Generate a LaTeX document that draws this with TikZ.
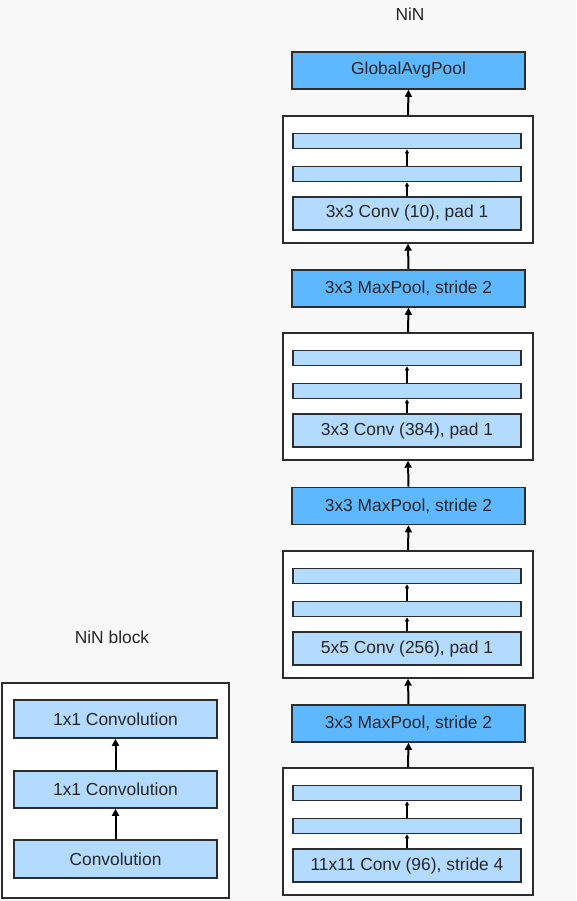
\documentclass[tikz,border=0pt]{standalone}
\usepackage{fontspec}
\setmainfont{Liberation Sans}
\usetikzlibrary{arrows.meta, positioning}
\definecolor{poolBlue}{RGB}{94,184,255}
\definecolor{convBlue}{RGB}{179,218,255}
\definecolor{edgeGray}{RGB}{45,45,45}
\definecolor{bgGray}{RGB}{248,248,248}
\tikzset{
  pool/.style={draw=edgeGray, line width=1.6pt, fill=poolBlue, minimum width=233pt, minimum height=37pt, inner sep=0pt},
  conv/.style={draw=edgeGray, line width=1.6pt, fill=convBlue, minimum width=228pt, minimum height=33pt, inner sep=0pt},
  bar/.style={conv, minimum height=15pt},
  block/.style={draw=edgeGray, line width=1.4pt, fill=white, minimum width=250pt, minimum height=127pt, inner sep=0pt},
  flow/.style={-{Triangle[length=7pt,width=7pt]}, line width=2pt},
  innerflow/.style={-{Triangle[length=4pt,width=4pt]}, line width=1.6pt},
}
\begin{document}
\begin{tikzpicture}[x=1pt, y=-1pt, font=\fontsize{17.4}{20}\selectfont, text=black!85]
    \fill[bgGray] (0,0) rectangle (576,901);
    \useasboundingbox (0,0) rectangle (576,901);

    % NiN column
    \node (ninTitle) at (410,14) {NiN};
    \node[pool] (gap) at (408.5,70.5) {GlobalAvgPool};

    % NiN blocks with their first convolution
    \foreach \k/\ytop/\txt in {1/116/{3x3 Conv (10), pad 1}, 2/333/{3x3 Conv (384), pad 1},
                                3/551/{5x5 Conv (256), pad 1}, 4/768/{11x11 Conv (96), stride 4}} {
        \node[block] (blk\k) at (408,\ytop+63.5) {};
        \node[bar] (barA\k) at (407,\ytop+25) {};
        \node[bar] (barB\k) at (407,\ytop+58) {};
        \node[conv] (conv\k) at (407,\ytop+97.5) {\txt};
        \draw[innerflow] (conv\k.north) -- (barB\k.south);
        \draw[innerflow] (barB\k.north) -- (barA\k.south);
    }

    % Pooling layers between blocks
    \foreach \k/\y in {1/288.5, 2/506, 3/723.5} {
        \node[pool] (mp\k) at (408.5,\y) {3x3 MaxPool, stride 2};
    }

    \draw[flow] (blk1.north) -- (gap.south);
    \draw[flow] (mp1.north) -- (blk1.south);
    \draw[flow] (blk2.north) -- (mp1.south);
    \draw[flow] (mp2.north) -- (blk2.south);
    \draw[flow] (blk3.north) -- (mp2.south);
    \draw[flow] (mp3.north) -- (blk3.south);
    \draw[flow] (blk4.north) -- (mp3.south);

    % NiN block detail
    \node (blkTitle) at (112,637) {NiN block};
    \node[block, minimum width=227pt, minimum height=215pt] (nb) at (115.5,790.5) {};
    \node[conv, minimum width=203pt, minimum height=38pt] (nbTop) at (115.5,719) {1x1 Convolution};
    \node[conv, minimum width=203pt, minimum height=37pt] (nbMid) at (115.5,789.5) {1x1 Convolution};
    \node[conv, minimum width=203pt, minimum height=38pt] (nbBot) at (115.5,859) {Convolution};
    \draw[flow] (nbBot.north) -- (nbMid.south);
    \draw[flow] (nbMid.north) -- (nbTop.south);
\end{tikzpicture}
\end{document}
